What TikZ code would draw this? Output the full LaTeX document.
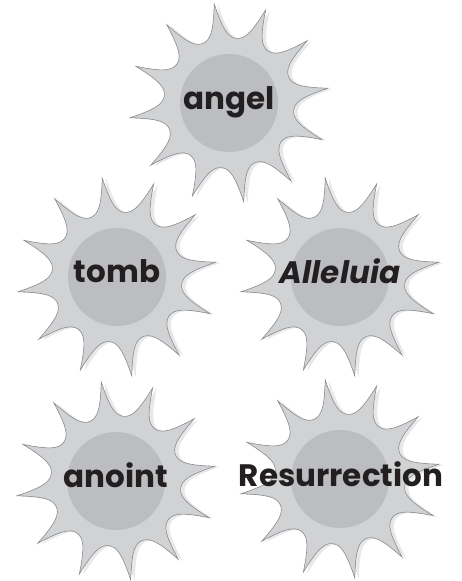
\documentclass[tikz,border=0pt]{standalone}
\usepackage{fontspec}
\setmainfont{Poppins}
\definecolor{starfill}{HTML}{D1D2D4}
\definecolor{starline}{HTML}{8C8C8E}
\definecolor{starshadow}{HTML}{E7E8E9}
\definecolor{circfill}{HTML}{BCBDC0}
\definecolor{wordcol}{HTML}{231F20}
\newcommand{\burstpath}{(8.5:100pt) \foreach \a in {8.5,38.5,...,338.5} { .. controls (\a+4:72pt) and (\a+8:66pt) .. (\a+15:65pt) .. controls (\a+22:66pt) and (\a+26:72pt) .. (\a+30:100pt) } -- cycle}
\tikzset{
  burst/.pic={
    \fill[starshadow] [xshift=4pt,yshift=-1pt] \burstpath;
    \filldraw[fill=starfill,draw=starline,line width=0.6pt] \burstpath;
    \fill[circfill] (0,0) circle (49pt);
  },
  word/.style={text=wordcol,font=\fontsize{31}{33}\selectfont\bfseries,inner sep=0pt,anchor=base}
}
\begin{document}
\begin{tikzpicture}[x=1pt,y=1pt]
\useasboundingbox (0,0) rectangle (461,581);
\pic (sa) at (229,478) {burst};
\pic (st) at (117,304) {burst};
\pic (sl) at (340,304) {burst};
\pic (sn) at (116,100) {burst};
\pic (sr) at (340,102) {burst};
\node[word] (angel) at (229,471) {angel};
\node[word] (tomb) at (117,298) {tomb};
\node[word] (alleluia) at (340,297) {\itshape Alleluia};
\node[word] (anoint) at (116,93) {anoint};
\node[word] (resurrection) at (341,94) {Resurrection};
\end{tikzpicture}
\end{document}
